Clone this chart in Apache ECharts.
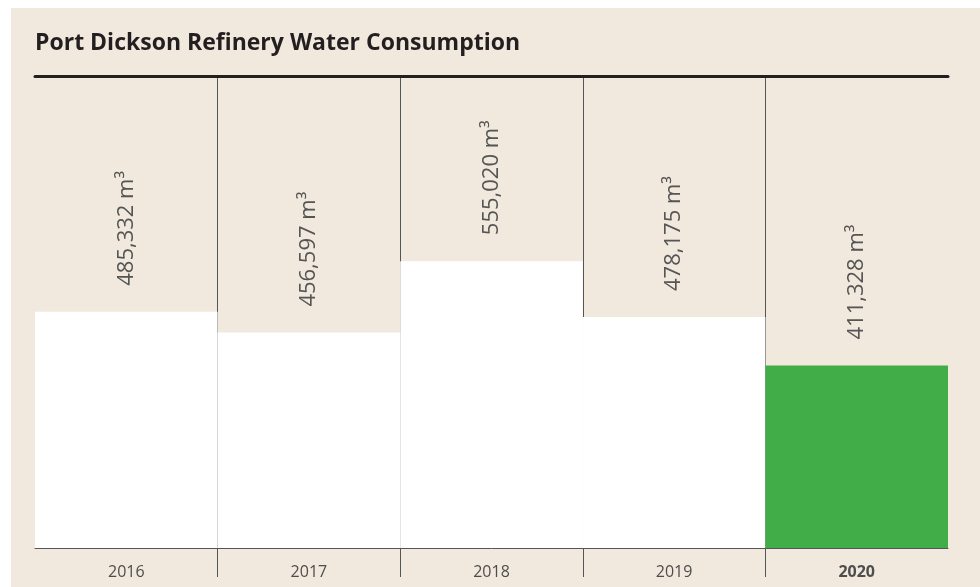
<!DOCTYPE html>
<html>
<head>
<meta charset="utf-8">
<script src="https://cdn.jsdelivr.net/npm/echarts@6/dist/echarts.min.js"></script>
<style>
  html, body { margin: 0; padding: 0; background: #ffffff; }
  #main { position: absolute; left: 11px; top: 8px; width: 969px; height: 579px; }
</style>
</head>
<body>
<div id="main"></div>
<script>
// data
var years = ['2016', '2017', '2018', '2019', '2020'];
var consumption = [485332, 456597, 555020, 478175, 411328];
var barColors = ['#ffffff', '#ffffff', '#ffffff', '#ffffff', '#41ad49'];

var W = 969, H = 579;
var gLeft = 24, gRight = 32, gTop = 68, gBottom = 39;
var band = (W - gLeft - gRight) / years.length;

var myChart = echarts.init(document.getElementById('main'));
var option = {
    backgroundColor: '#f1e9dd',
    title: {
        text: 'Port Dickson Refinery Water Consumption',
        left: 19,
        top: 19,
        textStyle: {
            fontFamily: 'Open Sans',
            fontWeight: 'bold',
            fontSize: 23,
            color: '#231f20'
        }
    },
    grid: [
        // bars
        { left: gLeft, right: gRight, top: gTop, bottom: gBottom },
        // divider lines between years
        { left: gLeft + band, right: gRight + band, top: gTop, bottom: 10 }
    ],
    xAxis: [
        {
            type: 'category',
            gridIndex: 0,
            data: years,
            axisLine: { lineStyle: { color: '#555555', width: 1 } },
            axisTick: { show: false },
            axisLabel: {
                margin: 16,
                fontFamily: 'Open Sans',
                fontSize: 16,
                color: '#4d4d4d',
                formatter: function (v) {
                    return v === '2020' ? '{b|' + v + '}' : v;
                },
                rich: {
                    b: { fontFamily: 'Open Sans', fontSize: 16, fontWeight: 'bold', color: '#4d4d4d' }
                }
            },
            splitLine: { show: false }
        },
        {
            // thick rule at the top
            type: 'category',
            gridIndex: 0,
            position: 'top',
            data: years,
            axisLine: { lineStyle: { color: '#231f20', width: 3 } },
            axisTick: { show: false },
            axisLabel: { show: false }
        },
        {
            type: 'category',
            gridIndex: 1,
            boundaryGap: false,
            data: years.slice(1),
            axisLine: { show: false },
            axisTick: { show: false },
            axisLabel: { show: false },
            splitLine: { show: true, lineStyle: { color: '#555555', width: 1 } }
        }
    ],
    yAxis: [
        { type: 'value', gridIndex: 0, min: 160000, max: 810000, show: false },
        { type: 'value', gridIndex: 1, show: false }
    ],
    series: [
        {
            type: 'bar',
            xAxisIndex: 0,
            yAxisIndex: 0,
            barWidth: '100%',
            data: consumption.map(function (v, i) {
                return { value: v, itemStyle: { color: barColors[i] } };
            }),
            label: {
                show: true,
                position: 'top',
                distance: 26,
                rotate: 90,
                align: 'left',
                verticalAlign: 'middle',
                fontFamily: 'Open Sans',
                fontWeight: 'normal',
                fontSize: 22,
                color: '#555555',
                formatter: function (p) {
                    return p.value.toLocaleString('en-US') + ' m\u00b3';
                }
            }
        }
    ]
};
myChart.setOption(option);
</script>
</body>
</html>
